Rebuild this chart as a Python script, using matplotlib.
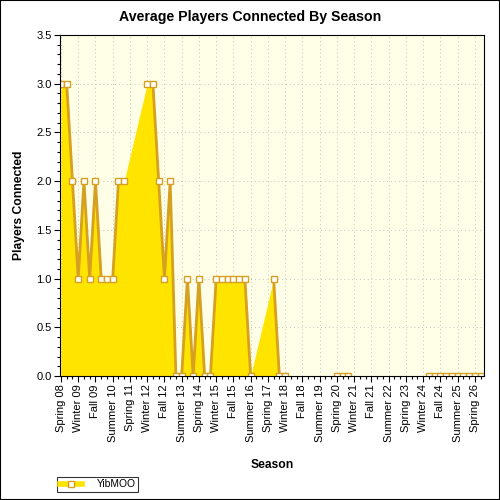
import numpy as np
import matplotlib
matplotlib.use("Agg")
import matplotlib.pyplot as plt
from matplotlib.lines import Line2D
from matplotlib.patches import Rectangle
from matplotlib.ticker import MultipleLocator, FormatStrFormatter

plt.rcParams['font.family'] = ['Liberation Sans', 'DejaVu Sans']

seasons = [
    'Spring 08', 'Summer 08', 'Fall 08', 'Winter 09', 'Spring 09', 'Summer 09', 'Fall 09', 'Winter 10',
    'Spring 10', 'Summer 10', 'Fall 10', 'Winter 11', 'Spring 11', 'Summer 11', 'Fall 11', 'Winter 12',
    'Spring 12', 'Summer 12', 'Fall 12', 'Winter 13', 'Spring 13', 'Summer 13', 'Fall 13', 'Winter 14',
    'Spring 14', 'Summer 14', 'Fall 14', 'Winter 15', 'Spring 15', 'Summer 15', 'Fall 15', 'Winter 16',
    'Spring 16', 'Summer 16', 'Fall 16', 'Winter 17', 'Spring 17', 'Summer 17', 'Fall 17', 'Winter 18',
    'Spring 18', 'Summer 18', 'Fall 18', 'Winter 19', 'Spring 19', 'Summer 19', 'Fall 19', 'Winter 20',
    'Spring 20', 'Summer 20', 'Fall 20', 'Winter 21', 'Spring 21', 'Summer 21', 'Fall 21', 'Winter 22',
    'Spring 22', 'Summer 22', 'Fall 22', 'Winter 23', 'Spring 23', 'Summer 23', 'Fall 23', 'Winter 24',
    'Spring 24', 'Summer 24', 'Fall 24', 'Winter 25', 'Spring 25', 'Summer 25', 'Fall 25', 'Winter 26',
    'Spring 26', 'Summer 26',
]

# average players per season, None = no data for that season
players = [
    3, 3, 2, 1, 2, 1, 2, 1, 1, 1, 2, 2, None, None, None, 3,
    3, 2, 1, 2, 0, 0, 1, 0, 1, 0, 0, 1, 1, 1, 1, 1,
    1, 0, None, None, None, 1, 0, 0, None, None, None, None, None, None, None, None,
    0, 0, 0, None, None, None, None, None, None, None, None, None, None, None, None, None,
    0, 0, 0, 0, 0, 0, 0, 0, 0, 0,
]
series_name = 'YibMOO'

fill_col = '#FFE400'
line_col = '#D6A020'

x = np.arange(len(seasons))
y = np.array([np.nan if v is None else v for v in players], dtype=float)
ok = ~np.isnan(y)

fig = plt.figure(figsize=(5, 5), dpi=100)
ax = fig.add_axes([60 / 500, 1 - 376 / 500, 424 / 500, 341 / 500])
ax.set_facecolor('#FFFFE8')

ax.fill_between(x[ok], y[ok], 0, color=fill_col, lw=0, zorder=2)
ax.plot(x, y, color=line_col, lw=2.0, zorder=3)
ax.plot(x[ok], y[ok], ls='none', marker='s', ms=4.2, mfc='white', mec=line_col, mew=1.0, zorder=4)

ax.set_xlim(-0.17, 73.6)
ax.set_ylim(0, 3.5)

ax.set_xticks(x[::3])
ax.set_xticklabels(seasons[::3], rotation=90, fontsize=8)
ax.set_xticks(x, minor=True)
ax.yaxis.set_major_locator(MultipleLocator(0.5))
ax.yaxis.set_minor_locator(MultipleLocator(0.1))
ax.yaxis.set_major_formatter(FormatStrFormatter('%.1f'))
ax.tick_params(axis='y', labelsize=8)
ax.tick_params(which='major', length=4, width=0.8, direction='out', pad=2)
ax.tick_params(which='minor', length=2, width=0.8, direction='out')

ax.grid(True, which='major', ls=(0, (1, 3)), lw=0.7, color='#C4C4C4', zorder=1)
ax.set_axisbelow(True)
for s in ax.spines.values():
    s.set_color('black')
    s.set_linewidth(0.8)
    s.set_zorder(5)

ax.set_xlabel('Season', fontsize=8.7, fontweight='bold', labelpad=12)
ax.set_ylabel('Players Connected', fontsize=8.7, fontweight='bold', labelpad=8)
fig.text(0.5, 1 - 17 / 500, 'Average Players Connected By Season', ha='center', va='center',
         fontsize=10.2, fontweight='bold')

handle = Line2D([], [], color=fill_col, lw=4, marker='s', ms=4.2, mfc='white', mec=line_col, mew=1.0)
leg = fig.legend([handle], [series_name], loc='lower left', bbox_to_anchor=(57 / 500, 8 / 500),
                 fontsize=7.4, frameon=True, fancybox=False, borderpad=0.25, handlelength=2.2,
                 handletextpad=1.4, borderaxespad=0)
leg.get_frame().set_edgecolor('black')
leg.get_frame().set_linewidth(0.8)

fig.patches.append(Rectangle((0, 0), 1, 1, transform=fig.transFigure, fill=False,
                             edgecolor='black', lw=1.5))

fig.savefig('out.png', dpi=100)
